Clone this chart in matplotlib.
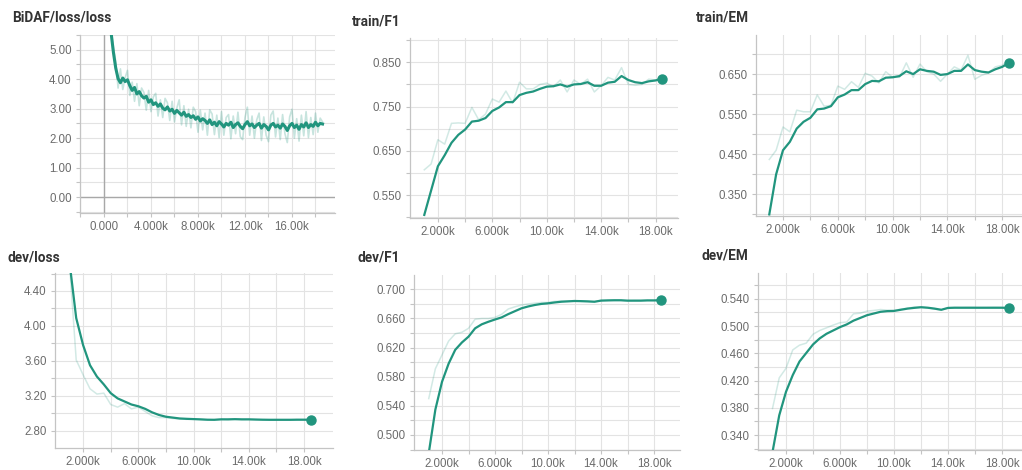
import numpy as np
import matplotlib
matplotlib.use("Agg")
import matplotlib.pyplot as plt
from matplotlib.ticker import FixedLocator, FixedFormatter

plt.rcParams['font.family'] = ['Liberation Sans', 'DejaVu Sans']

W, H = 1022, 470

# ---------------- data ----------------
# BiDAF/loss/loss (training loss, logged every 200 steps)
loss_steps = np.arange(600, 18601, 200)
loss_smooth = [5.60, 4.92, 4.38, 4.02, 3.88, 4.04, 3.92, 3.98, 3.78, 3.62,
               3.72, 3.50, 3.58, 3.44, 3.36, 3.42, 3.22, 3.30, 3.14, 3.20,
               3.08, 3.16, 3.02, 2.96, 3.06, 2.92, 2.98, 2.84, 2.94, 2.86,
               2.78, 2.88, 2.74, 2.80, 2.70, 2.76, 2.64, 2.72, 2.58, 2.66,
               2.60, 2.50, 2.62, 2.46, 2.54, 2.42, 2.56, 2.48, 2.38, 2.50,
               2.44, 2.54, 2.36, 2.46, 2.52, 2.40, 2.32, 2.46, 2.56, 2.42,
               2.48, 2.36, 2.44, 2.50, 2.34, 2.46, 2.40, 2.28, 2.44, 2.50,
               2.38, 2.44, 2.34, 2.48, 2.40, 2.26, 2.42, 2.50, 2.36, 2.44,
               2.30, 2.46, 2.38, 2.52, 2.36, 2.46, 2.40, 2.54, 2.42, 2.50,
               2.48]
loss_raw = [5.70, 5.10, 4.60, 3.70, 4.35, 3.65, 4.05, 4.30, 3.45, 3.90,
            3.25, 3.85, 3.10, 3.70, 3.55, 2.95, 3.62, 2.90, 3.40, 3.52,
            2.75, 3.30, 2.70, 3.35, 3.20, 2.60, 3.25, 2.55, 3.02, 3.30,
            2.45, 3.10, 2.40, 2.98, 2.35, 3.05, 2.90, 2.20, 2.95, 2.28,
            2.85, 2.10, 2.96, 2.82, 2.12, 2.78, 2.02, 2.90, 2.10, 2.70,
            2.80, 1.98, 2.75, 2.15, 2.88, 2.05, 1.95, 2.70, 3.05, 2.10,
            2.75, 2.00, 2.62, 2.85, 1.92, 2.72, 2.10, 1.88, 2.78, 2.92,
            2.04, 2.68, 1.95, 2.80, 2.15, 1.85, 2.72, 2.98, 2.00, 2.66,
            1.90, 2.78, 2.08, 2.90, 2.02, 2.70, 2.12, 2.85, 2.20, 2.68,
            2.55]

# evaluation summaries every 500 steps
eval_steps = np.arange(1000, 18501, 500)
train_f1_smooth = [0.505, 0.56, 0.615, 0.64, 0.668, 0.686, 0.698, 0.716, 0.718, 0.724,
                   0.74, 0.748, 0.76, 0.76, 0.776, 0.781, 0.784, 0.79, 0.795, 0.796,
                   0.80, 0.795, 0.80, 0.801, 0.805, 0.797, 0.797, 0.804, 0.806, 0.819,
                   0.81, 0.805, 0.803, 0.807, 0.809, 0.813]
train_f1_raw = [0.607, 0.62, 0.675, 0.665, 0.712, 0.713, 0.712, 0.748, 0.72, 0.733,
                0.767, 0.76, 0.785, 0.758, 0.805, 0.79, 0.79, 0.80, 0.803, 0.795,
                0.81, 0.783, 0.81, 0.80, 0.812, 0.783, 0.797, 0.816, 0.81, 0.838,
                0.80, 0.798, 0.80, 0.812, 0.81, 0.815]
train_em_smooth = [0.30, 0.40, 0.46, 0.481, 0.514, 0.531, 0.541, 0.562, 0.564, 0.570,
                   0.592, 0.599, 0.610, 0.610, 0.625, 0.633, 0.632, 0.641, 0.642, 0.645,
                   0.657, 0.650, 0.662, 0.658, 0.656, 0.648, 0.650, 0.658, 0.658, 0.674,
                   0.660, 0.656, 0.654, 0.662, 0.668, 0.678]
train_em_raw = [0.437, 0.46, 0.518, 0.506, 0.56, 0.556, 0.556, 0.598, 0.57, 0.572,
                0.62, 0.612, 0.631, 0.617, 0.652, 0.645, 0.628, 0.656, 0.642, 0.642,
                0.678, 0.642, 0.675, 0.656, 0.65, 0.632, 0.65, 0.668, 0.66, 0.697,
                0.637, 0.647, 0.653, 0.668, 0.672, 0.685]
dev_loss_smooth = [4.75, 4.09, 3.78, 3.55, 3.42, 3.33, 3.23, 3.17, 3.135, 3.10,
                   3.08, 3.05, 3.01, 2.98, 2.96, 2.95, 2.94, 2.936, 2.933, 2.93,
                   2.926, 2.925, 2.93, 2.93, 2.932, 2.93, 2.93, 2.928, 2.926, 2.925,
                   2.925, 2.925, 2.925, 2.926, 2.926, 2.926]
dev_loss_raw = [4.75, 3.61, 3.44, 3.28, 3.22, 3.23, 3.10, 3.07, 3.11, 3.05,
                3.07, 3.02, 2.97, 2.95, 2.95, 2.94, 2.935, 2.93, 2.932, 2.928,
                2.924, 2.926, 2.932, 2.928, 2.934, 2.928, 2.93, 2.926, 2.925, 2.924,
                2.926, 2.925, 2.924, 2.927, 2.926, 2.926]
dev_f1_smooth = [0.475, 0.535, 0.573, 0.598, 0.617, 0.627, 0.635, 0.6465, 0.652, 0.6555,
                 0.6586, 0.6615, 0.666, 0.670, 0.674, 0.6765, 0.6785, 0.680, 0.6808, 0.682,
                 0.683, 0.6835, 0.684, 0.6838, 0.6835, 0.683, 0.6845, 0.6848, 0.685, 0.685,
                 0.6845, 0.6845, 0.6845, 0.6848, 0.6848, 0.685]
dev_f1_raw = [0.55, 0.591, 0.610, 0.629, 0.639, 0.641, 0.6465, 0.659, 0.660, 0.660,
              0.6615, 0.6657, 0.673, 0.676, 0.6785, 0.680, 0.681, 0.682, 0.682, 0.6835,
              0.684, 0.684, 0.6845, 0.6835, 0.683, 0.6825, 0.685, 0.685, 0.6855, 0.685,
              0.684, 0.6845, 0.6845, 0.685, 0.6848, 0.685]
dev_em_smooth = [0.315, 0.369, 0.4035, 0.428, 0.448, 0.4605, 0.473, 0.482, 0.4887, 0.4936,
                 0.4985, 0.5025, 0.508, 0.512, 0.516, 0.5185, 0.521, 0.522, 0.5223, 0.524,
                 0.5257, 0.5268, 0.5277, 0.527, 0.5257, 0.524, 0.5267, 0.527, 0.527, 0.527,
                 0.527, 0.527, 0.527, 0.527, 0.527, 0.5267]
dev_em_raw = [0.379, 0.424, 0.438, 0.465, 0.472, 0.475, 0.488, 0.4936, 0.4975, 0.5015,
              0.505, 0.506, 0.518, 0.519, 0.522, 0.523, 0.5243, 0.5235, 0.5228, 0.525,
              0.5262, 0.528, 0.528, 0.5268, 0.525, 0.5235, 0.527, 0.5272, 0.527, 0.5272,
              0.527, 0.5268, 0.527, 0.5272, 0.527, 0.5268]

titles = ["BiDAF/loss/loss", "train/F1", "train/EM", "dev/loss", "dev/F1", "dev/EM"]

# ---------------- style ----------------
DARK = '#21957e'
GRID = '#e3e3e3'
AXC = '#c4c4c4'
TXT = '#6b6b6b'

fig = plt.figure(figsize=(W / 100, H / 100), dpi=100)
fig.patch.set_facecolor('white')


def add_ax(l, t, r, b):
    return fig.add_axes([l / W, 1 - b / H, (r - l) / W, (b - t) / H])


def style(ax, xlim, ylim, xt, xlab, yt, ylab):
    ax.set_xlim(*xlim)
    ax.set_ylim(*ylim)
    ax.xaxis.set_major_locator(FixedLocator(xt))
    ax.xaxis.set_major_formatter(FixedFormatter(xlab))
    ax.yaxis.set_major_locator(FixedLocator(yt))
    ax.yaxis.set_major_formatter(FixedFormatter(ylab))
    for s in ['top', 'right']:
        ax.spines[s].set_visible(False)
    for s in ['left', 'bottom']:
        ax.spines[s].set_color(AXC)
        ax.spines[s].set_linewidth(0.9)
    ax.tick_params(length=3, width=0.8, color=AXC, labelcolor=TXT,
                   labelsize=8.3, pad=3)
    ax.grid(True, color=GRID, linewidth=0.8)
    ax.set_axisbelow(True)


def title(x, y, s):
    fig.text(x / W, 1 - y / H, s, ha='left', va='center', fontsize=9.8,
             color='#333333', fontweight='bold', family=['Roboto', 'DejaVu Sans'])


def plot_pair(ax, x, raw, sm, dot=True):
    ax.plot(x, raw, color=DARK, alpha=0.2, lw=1.1, zorder=2)
    ax.plot(x, sm, color=DARK, lw=1.6, zorder=3, solid_joinstyle='round')
    if dot:
        ax.plot(x[-1], sm[-1], 'o', color=DARK, ms=6.5, zorder=4)


def k(v):
    if v == 0:
        return '0.000'
    s = v / 1000
    return f'{s:.3f}k' if s < 10 else f'{s:.2f}k'


# ---- panel 1: BiDAF/loss/loss ----
ax1 = add_ax(80, 35, 335, 213)
xt1 = list(range(-2000, 18001, 2000))
xl1 = [k(v) if v in (0, 4000, 8000, 12000, 16000) else '' for v in xt1]
yt1 = [-0.5 + 0.5 * i for i in range(13)]
yl1 = [f'{v:.2f}' if abs(v - round(v)) < 1e-9 else '' for v in yt1]
style(ax1, (-2040, 19660), (-0.54, 5.5), xt1, xl1, yt1, yl1)
ax1.axhline(0, color='#a8a8a8', lw=1.0, zorder=1)
ax1.axvline(0, color='#a8a8a8', lw=1.0, zorder=1)
ax1.plot(loss_steps, loss_raw, color=DARK, alpha=0.25, lw=1.2, zorder=2)
ax1.plot(loss_steps, loss_smooth, color=DARK, lw=2.2, zorder=3)

# ---- panel 2: train/F1 ----
ax2 = add_ax(410, 38, 678, 218)
xt = list(range(2000, 18001, 2000))
xl = [k(v) if v in (2000, 6000, 10000, 14000, 18000) else '' for v in xt]
yt2 = [0.50 + 0.05 * i for i in range(9)]
yl2 = [f'{v:.3f}' if i % 2 == 1 else '' for i, v in enumerate(yt2)]
style(ax2, (-50, 19650), (0.498, 0.905), xt, xl, yt2, yl2)
plot_pair(ax2, eval_steps, train_f1_raw, train_f1_smooth)

# ---- panel 3: train/EM ----
ax3 = add_ax(756, 35, 1022, 216)
yt3 = [0.30 + 0.05 * i for i in range(9)]
yl3 = [f'{v:.3f}' if i % 2 == 1 else '' for i, v in enumerate(yt3)]
style(ax3, (30, 19445), (0.296, 0.7475), xt, xl, yt3, yl3)
plot_pair(ax3, eval_steps, train_em_raw, train_em_smooth)

# ---- panel 4: dev/loss ----
ax4 = add_ax(55, 273, 333, 448)
yt4 = [2.6 + 0.2 * i for i in range(11)]
yl4 = [f'{v:.2f}' if i % 2 == 1 else '' for i, v in enumerate(yt4)]
style(ax4, (-36, 20100), (2.602, 4.606), xt, xl, yt4, yl4)
plot_pair(ax4, eval_steps, dev_loss_raw, dev_loss_smooth)

# ---- panel 5: dev/F1 ----
ax5 = add_ax(414, 275, 680, 450)
yt5 = [0.48 + 0.02 * i for i in range(13)]
yl5 = [f'{v:.3f}' if i % 2 == 1 else '' for i, v in enumerate(yt5)]
style(ax5, (-113, 19960), (0.4794, 0.7197), xt, xl, yt5, yl5)
plot_pair(ax5, eval_steps, dev_f1_raw, dev_f1_smooth)

# ---- panel 6: dev/EM ----
ax6 = add_ax(758, 273, 1022, 450)
yt6 = [0.32 + 0.02 * i for i in range(13)]
yl6 = [f'{v:.3f}' if i % 2 == 1 else '' for i, v in enumerate(yt6)]
style(ax6, (-74, 19480), (0.318, 0.578), xt, xl, yt6, yl6)
plot_pair(ax6, eval_steps, dev_em_raw, dev_em_smooth)

# titles
title(12, 18, titles[0])
title(352, 21, titles[1])
title(696, 17, titles[2])
title(8, 257, titles[3])
title(357, 258, titles[4])
title(701, 256, titles[5])

fig.savefig('out.png', dpi=100, facecolor='white')
